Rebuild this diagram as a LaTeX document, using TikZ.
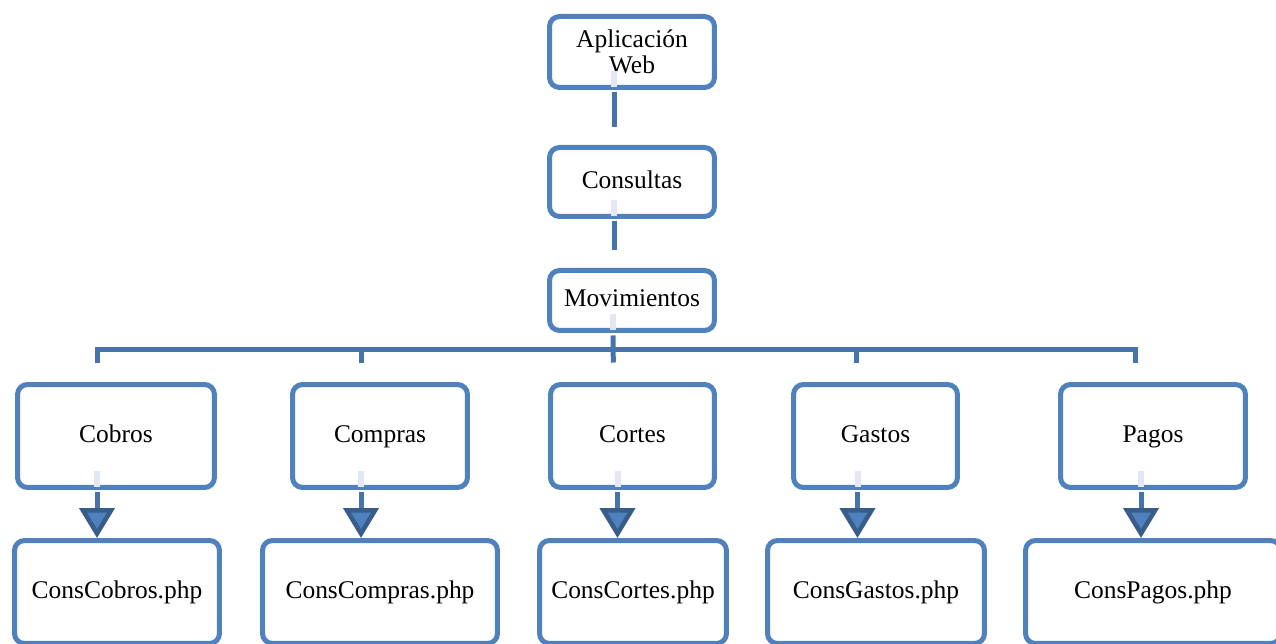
\documentclass[tikz,border=0pt]{standalone}
\usepackage{fontspec}
\setmainfont{Liberation Serif}
\usetikzlibrary{arrows.meta}

\definecolor{boxblue}{RGB}{79,129,189}
\definecolor{linkblue}{RGB}{70,116,170}
\definecolor{tipblue}{RGB}{56,93,138}
\definecolor{ghostblue}{RGB}{226,231,243}

\begin{document}
\begin{tikzpicture}[x=0.02cm, y=-0.02cm,
  box/.style={draw=boxblue, line width=0.1cm, rounded corners=0.2cm, fill=white,
    align=center, inner sep=2pt, font=\fontsize{14.5}{14.5}\selectfont},
  oneline/.style={box, text height=2ex, text depth=0.4ex},
  link/.style={draw=linkblue, line width=0.1cm},
  ghost/.style={draw=ghostblue, line width=0.12cm},
  arr/.style={link, -{Triangle[width=0.7cm, length=0.6cm, line width=0.09cm, fill=boxblue, color=tipblue]}}]

\useasboundingbox (0,0) rectangle (1276,644);
\clip (0,0) rectangle (1276,644);

% Draw top chain
\node[box, minimum width=3.3cm, minimum height=1.42cm] (app) at (632,52) {Aplicación\\Web};
\node[oneline, minimum width=3.3cm, minimum height=1.38cm] (cons) at (632,182) {Consultas};
\node[oneline, minimum width=3.3cm, minimum height=1.2cm] (mov) at (632,300.5) {Movimientos};

% Draw second level
\node[oneline, minimum width=3.94cm, minimum height=2.06cm] (cobros) at (116,436) {Cobros};
\node[oneline, minimum width=3.5cm, minimum height=2.06cm] (compras) at (380,436) {Compras};
\node[oneline, minimum width=3.28cm, minimum height=2.06cm] (cortes) at (632.5,436) {Cortes};
\node[oneline, minimum width=3.28cm, minimum height=2.06cm] (gastos) at (875.5,436) {Gastos};
\node[oneline, minimum width=3.7cm, minimum height=2.06cm] (pagos) at (1153,436) {Pagos};

% Draw php files
\node[oneline, minimum width=4.1cm, minimum height=2.06cm] (conscobros) at (117,592) {ConsCobros.php};
\node[oneline, minimum width=4.7cm, minimum height=2.06cm] (conscompras) at (380,592) {ConsCompras.php};
\node[oneline, minimum width=3.74cm, minimum height=2.06cm] (conscortes) at (633,592) {ConsCortes.php};
\node[oneline, minimum width=4.34cm, minimum height=2.06cm] (consgastos) at (876,592) {ConsGastos.php};
\node[oneline, minimum width=5.1cm, minimum height=2.06cm] (conspagos) at (1153,592) {ConsPagos.php};

% Faint stubs inside the boxes
\foreach \n/\s in {app/-0.36,cons/-0.36,mov/-0.38,cobros/-0.38,compras/-0.38,cortes/-0.3,gastos/-0.36,pagos/-0.24}
  \draw[ghost] ([xshift=\s cm,yshift=0.38cm]\n.south) -- ([xshift=\s cm,yshift=0.05cm]\n.south);

% Draw links
\draw[link, shorten <=0.05cm, shorten >=0.36cm] ([xshift=-0.36cm]app.south) -- ([xshift=-0.36cm]cons.north);
\draw[link, shorten <=0.05cm, shorten >=0.36cm] ([xshift=-0.36cm]cons.south) -- ([xshift=-0.36cm]mov.north);
\draw[link, shorten <=0.05cm, shorten >=0.39cm] ([xshift=-0.38cm]mov.south) -- ([xshift=-0.38cm]cortes.north);

% Draw bus
\coordinate (bus) at (0,350);
\draw[link, line cap=rect] ([xshift=-0.38cm]cobros.north |- bus) -- ([xshift=-0.36cm]pagos.north |- bus);
\foreach \n/\s in {cobros/-0.38,compras/-0.38,gastos/-0.38,pagos/-0.36}
  \draw[link, shorten >=0.39cm] ([xshift=\s cm]\n.north |- bus) -- ([xshift=\s cm]\n.north);

% Draw arrows
\foreach \n/\m/\s in {cobros/conscobros/-0.38,compras/conscompras/-0.38,cortes/conscortes/-0.3,gastos/consgastos/-0.36,pagos/conspagos/-0.24}
  \draw[arr, shorten <=0.05cm] ([xshift=\s cm]\n.south) -- ([xshift=\s cm]\n.south |- \m.north);

\end{tikzpicture}
\end{document}
